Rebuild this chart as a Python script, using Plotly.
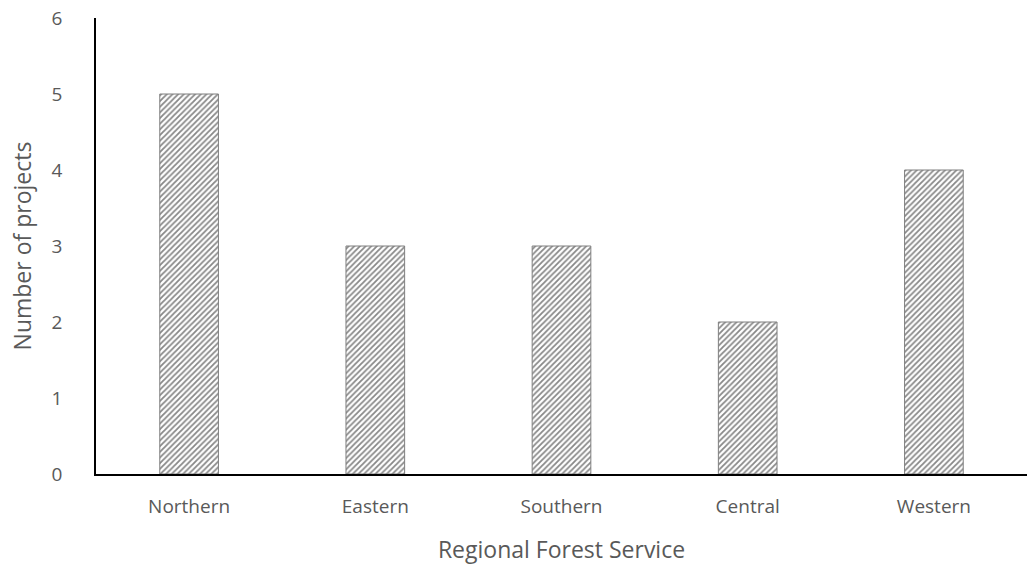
import plotly.graph_objects as go

categories = ["Northern", "Eastern", "Southern", "Central", "Western"]
values = [5, 3, 3, 2, 4]

fig = go.Figure(go.Bar(
    x=categories, y=values,
    marker=dict(color="white",
                line=dict(color="#7f7f7f", width=1),
                pattern=dict(shape="/", size=4, solidity=0.45, fgcolor="#111111", bgcolor="white")),
))
fig.update_layout(
    width=1027, height=567,
    margin=dict(l=96, r=0, t=18, b=93),
    plot_bgcolor="white", paper_bgcolor="white",
    bargap=0.685,
    showlegend=False,
    font=dict(family="Open Sans, Liberation Sans, sans-serif", color="#595959", size=19),
    xaxis=dict(showline=True, linecolor="black", linewidth=1.5, ticks="", showgrid=False,
               ticklabelstandoff=14,
               title=dict(text="Regional Forest Service", font=dict(size=23), standoff=24)),
    yaxis=dict(range=[0, 6], dtick=1, showline=True, linecolor="black", linewidth=1.5,
               ticks="", showgrid=False, zeroline=False, ticklabelstandoff=28,
               title=dict(text="Number of projects", font=dict(size=23), standoff=14)),
)
fig.write_html("out.html")
